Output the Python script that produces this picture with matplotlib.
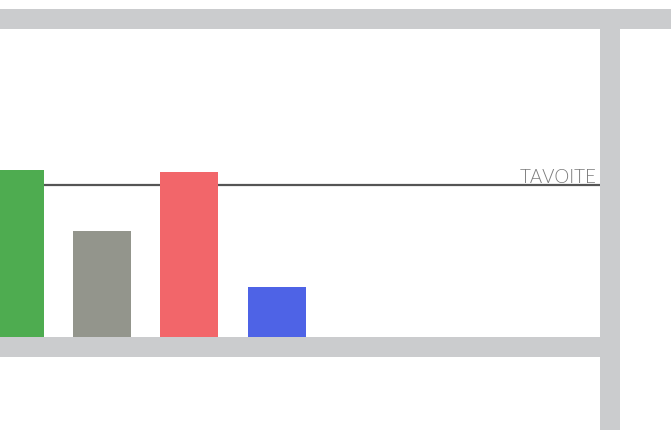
import matplotlib
matplotlib.use("Agg")
import matplotlib.pyplot as plt
from matplotlib.patches import Rectangle

categories = ["A", "B", "C", "D"]
values = [110, 70, 109, 33]
colors = ["#4EAC50", "#93958C", "#F2666A", "#4E63E6"]
target = 100
target_label = "TAVOITE"

W, H = 671, 430
fig = plt.figure(figsize=(W / 100, H / 100), dpi=100)
fig.patch.set_facecolor("white")

frame = "#CBCCCE"
# decorative frame (pixel coords -> figure fraction)
def px_rect(x0, y0, x1, y1, **kw):
    fig.patches.append(Rectangle((x0 / W, 1 - y1 / H), (x1 - x0) / W, (y1 - y0) / H,
                                 transform=fig.transFigure, figure=fig, **kw))

px_rect(0, 9, 671, 29, facecolor=frame, edgecolor="none", zorder=0)
px_rect(600.3, 29, 620.3, 430, facecolor=frame, edgecolor="none", zorder=0)
px_rect(0, 337.3, 600.3, 357.3, facecolor=frame, edgecolor="none", zorder=0)

ax_left, ax_right = 0, 600.3
ax_top, ax_bottom = 29, 337.3
ax = fig.add_axes([ax_left / W, 1 - ax_bottom / H, (ax_right - ax_left) / W, (ax_bottom - ax_top) / H])
ax.set_facecolor("none")
ax.set_zorder(2)

pitch = 87.4
first_center = 14.5
ax.set_xlim(-first_center / pitch, (ax_right - ax_left - first_center) / pitch)
px_per_unit = 152.0 / target
ax.set_ylim(0, (ax_bottom - ax_top) / px_per_unit)

xs = list(range(len(categories)))
ax.axhline(target, color="#555555", linewidth=1.6, zorder=1)
ax.bar(xs, values, width=58 / pitch, color=colors, zorder=2)
ax.annotate(target_label, xy=(1, target), xycoords=("axes fraction", "data"),
            xytext=(-4, 2.5), textcoords="offset pixels", ha="right", va="baseline",
            fontsize=13.5, color="#7A7A7A", family=["Lato", "DejaVu Sans"], fontweight=300)

for s in ax.spines.values():
    s.set_visible(False)
ax.set_xticks([])
ax.set_yticks([])

fig.savefig("out.png", dpi=100, facecolor="white")
